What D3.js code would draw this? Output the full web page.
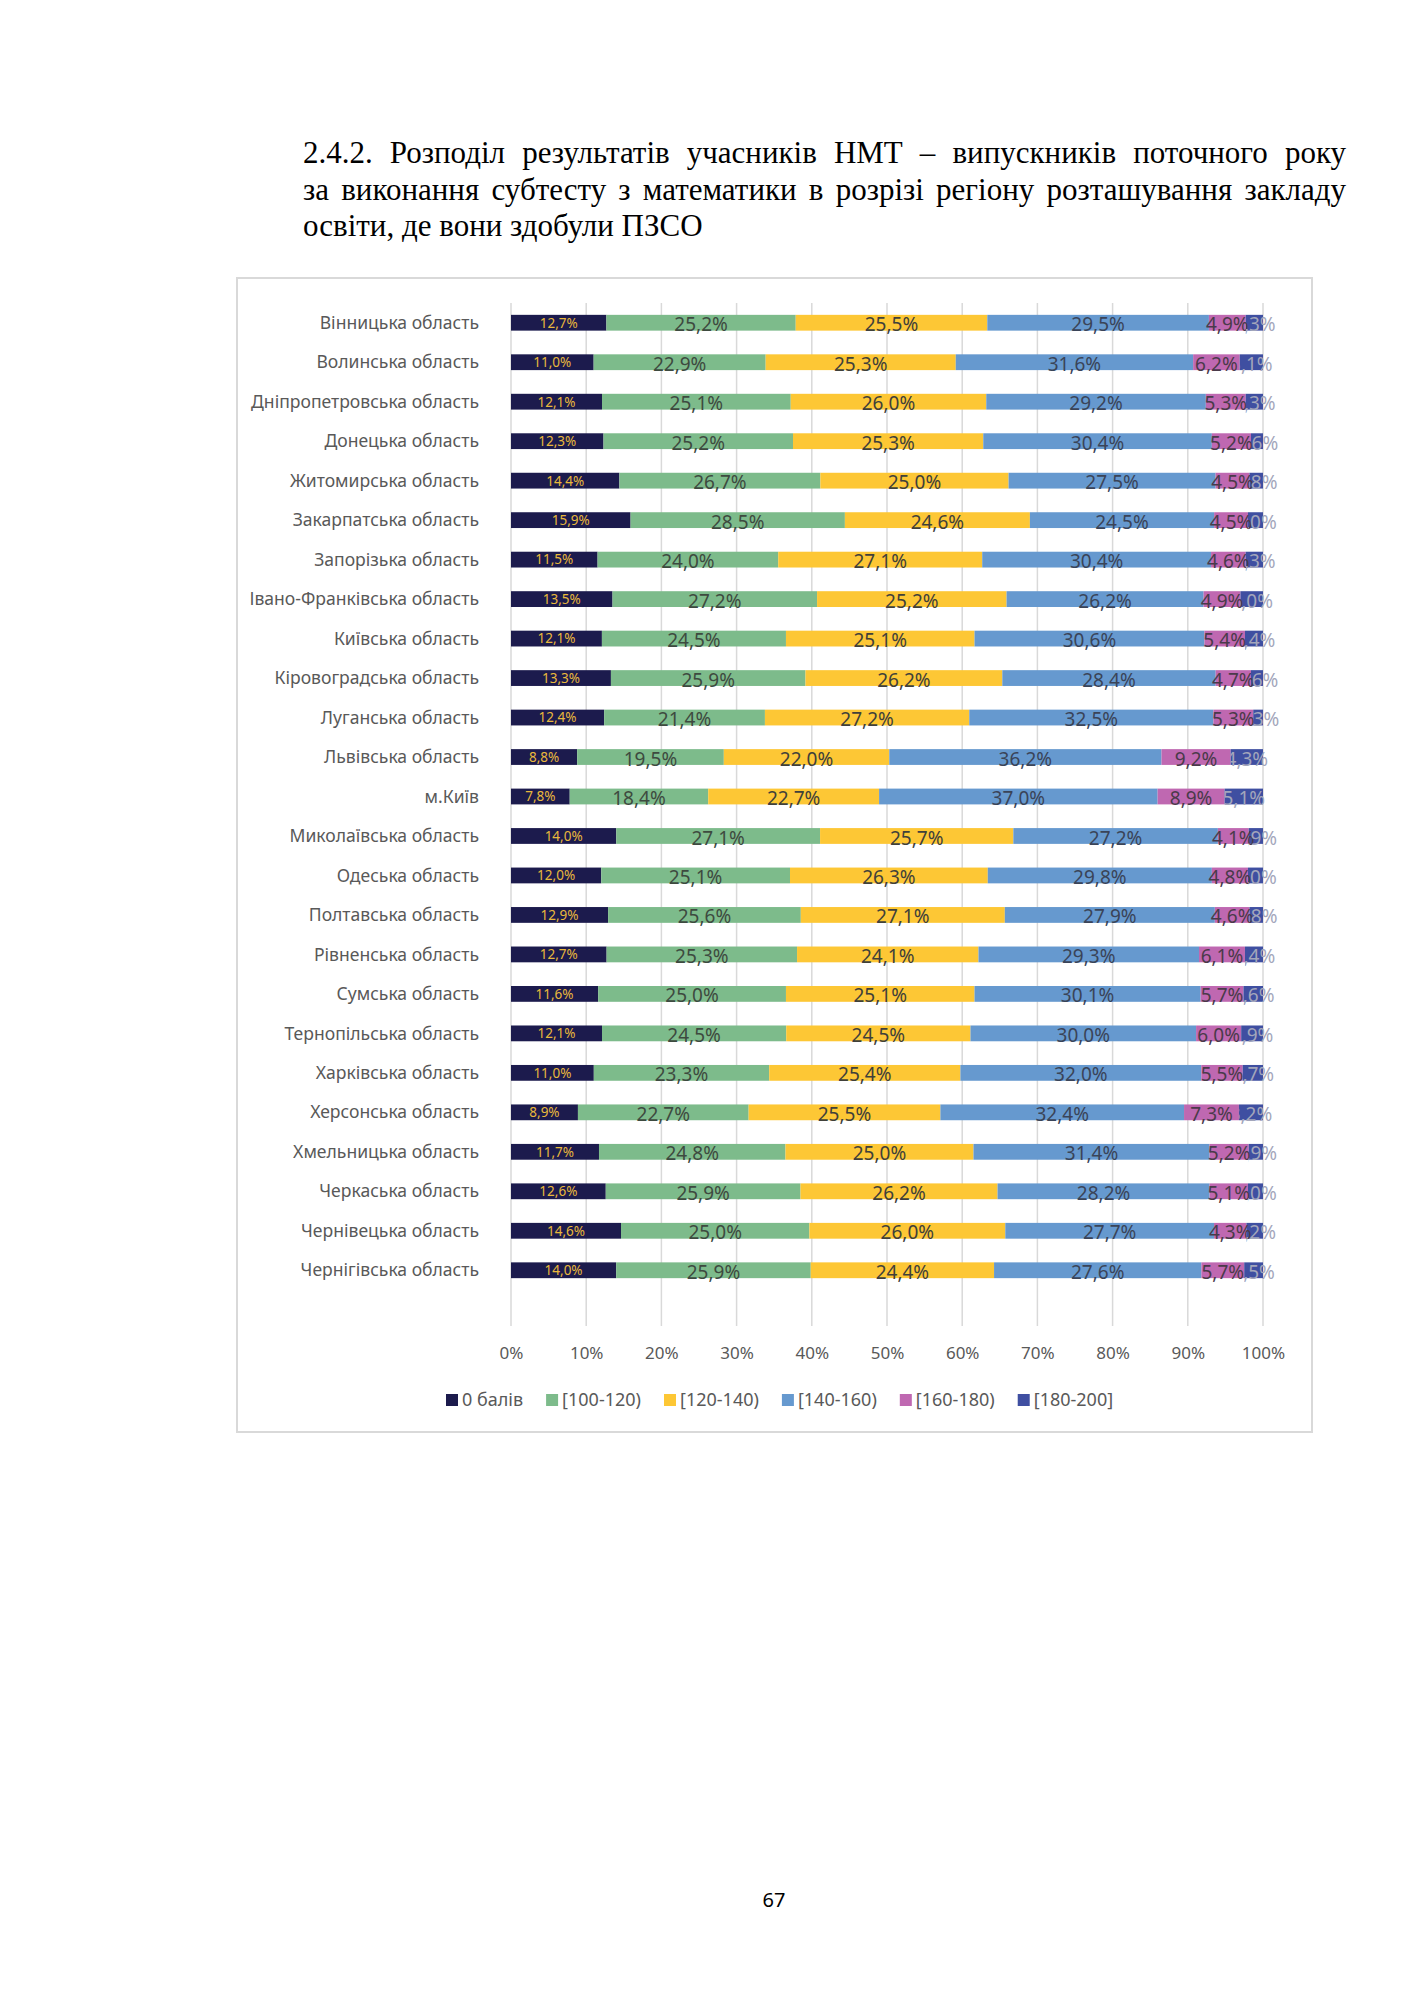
<!DOCTYPE html>
<html>
<head>
<meta charset="utf-8">
<script src="https://cdn.jsdelivr.net/npm/d3@7"></script>
<style>
  html, body { margin: 0; padding: 0; background: #fff; }
  svg { display: block; }
</style>
</head>
<body>
<script>
// ---------------- DATA ----------------
const titleLines = [
  "2.4.2. Розподіл результатів учасників НМТ – випускників поточного року",
  "за виконання субтесту з математики в розрізі регіону розташування закладу",
  "освіти, де вони здобули ПЗСО"
];
const pageNumber = "67";

const categories = [
  "Вінницька область", "Волинська область", "Дніпропетровська область", "Донецька область",
  "Житомирська область", "Закарпатська область", "Запорізька область", "Івано-Франківська область",
  "Київська область", "Кіровоградська область", "Луганська область", "Львівська область",
  "м.Київ", "Миколаївська область", "Одеська область", "Полтавська область",
  "Рівненська область", "Сумська область", "Тернопільська область", "Харківська область",
  "Херсонська область", "Хмельницька область", "Черкаська область", "Чернівецька область",
  "Чернігівська область"
];
const seriesNames = ["0 балів", "[100-120)", "[120-140)", "[140-160)", "[160-180)", "[180-200]"];
const zeroScore = [12.7, 11.0, 12.1, 12.3, 14.4, 15.9, 11.5, 13.5, 12.1, 13.3, 12.4, 8.8, 7.8, 14.0, 12.0, 12.9, 12.7, 11.6, 12.1, 11.0, 8.9, 11.7, 12.6, 14.6, 14.0];
const s100_120 = [25.2, 22.9, 25.1, 25.2, 26.7, 28.5, 24.0, 27.2, 24.5, 25.9, 21.4, 19.5, 18.4, 27.1, 25.1, 25.6, 25.3, 25.0, 24.5, 23.3, 22.7, 24.8, 25.9, 25.0, 25.9];
const s120_140 = [25.5, 25.3, 26.0, 25.3, 25.0, 24.6, 27.1, 25.2, 25.1, 26.2, 27.2, 22.0, 22.7, 25.7, 26.3, 27.1, 24.1, 25.1, 24.5, 25.4, 25.5, 25.0, 26.2, 26.0, 24.4];
const s140_160 = [29.5, 31.6, 29.2, 30.4, 27.5, 24.5, 30.4, 26.2, 30.6, 28.4, 32.5, 36.2, 37.0, 27.2, 29.8, 27.9, 29.3, 30.1, 30.0, 32.0, 32.4, 31.4, 28.2, 27.7, 27.6];
const s160_180 = [4.9, 6.2, 5.3, 5.2, 4.5, 4.5, 4.6, 4.9, 5.4, 4.7, 5.3, 9.2, 8.9, 4.1, 4.8, 4.6, 6.1, 5.7, 6.0, 5.5, 7.3, 5.2, 5.1, 4.3, 5.7];
const s180_200 = [2.3, 3.1, 2.3, 1.6, 1.8, 2.0, 2.3, 3.0, 2.4, 1.6, 1.3, 4.3, 5.1, 1.9, 2.0, 1.8, 2.4, 2.6, 2.9, 2.7, 3.2, 1.9, 2.0, 2.2, 2.5];
const xTickValues = [0, 0.1, 0.2, 0.3, 0.4, 0.5, 0.6, 0.7, 0.8, 0.9, 1.0];

// ---------------- STYLE ----------------
const seriesColors = ["#1c1b4d", "#7dbb8b", "#fdc735", "#6699cf", "#bf68b1", "#3f4fa1"];
const labelColors  = ["#e8b83c", "#3d4a3f", "#40403a", "#3a4458", "#4a3a4a", "#a3a6bb"];
const sansFont = "'Noto Sans', 'Open Sans', sans-serif";
const serifFont = "'Liberation Serif', 'Times New Roman', serif";

const W = 1414, H = 2000;
const svg = d3.select("body").append("svg").attr("width", W).attr("height", H);
svg.append("rect").attr("width", W).attr("height", H).attr("fill", "#fff");

// ---------------- TITLE (justified) ----------------
const titleLeft = 303, titleRight = 1346;
const titleBaselines = [163, 200, 236];
const titleG = svg.append("g").attr("font-family", serifFont).attr("fill", "#000");
let titleSize = 28;
{
  const t = titleG.append("text").attr("font-size", 28).text(titleLines[2]);
  const w = t.node().getComputedTextLength();
  titleSize = Math.max(25, Math.min(31, 28 * 400 / w));
  t.remove();
}
titleLines.forEach((line, i) => {
  const words = line.split(" ");
  const justify = i < titleLines.length - 1;
  const widths = words.map(wd => {
    const t = titleG.append("text").attr("font-size", titleSize).text(wd);
    const w = t.node().getComputedTextLength();
    t.remove();
    return w;
  });
  const total = d3.sum(widths);
  const spaceW = justify ? (titleRight - titleLeft - total) / (words.length - 1) : titleSize * 0.25;
  let x = titleLeft;
  const text = titleG.append("text").attr("font-size", titleSize).attr("y", titleBaselines[i]);
  words.forEach((wd, j) => {
    text.append("tspan").attr("x", x).text(wd);
    x += widths[j] + spaceW;
  });
});

// ---------------- CHART FRAME ----------------
svg.append("rect")
  .attr("x", 237).attr("y", 278).attr("width", 1075).attr("height", 1154)
  .attr("fill", "#fff").attr("stroke", "#d9d9d9").attr("stroke-width", 2);

// ---------------- SCALES ----------------
const x = d3.scaleLinear().domain([0, 1]).range([511, 1263]);
const y = d3.scaleBand().domain(categories).range([303, 1290]).paddingInner(0.6).paddingOuter(0.3);

const seriesArrays = [zeroScore, s100_120, s120_140, s140_160, s160_180, s180_200];
const rows = categories.map((c, i) => {
  const r = { cat: c };
  seriesNames.forEach((s, k) => r[s] = seriesArrays[k][i]);
  return r;
});
const stacked = d3.stack().keys(seriesNames).offset(d3.stackOffsetExpand)(rows);

// gridlines
const gridTop = 303, gridBottom = 1326;
svg.append("g").selectAll("line").data(xTickValues).join("line")
  .attr("x1", d => x(d)).attr("x2", d => x(d))
  .attr("y1", gridTop).attr("y2", gridBottom)
  .attr("stroke", "#d9d9d9").attr("stroke-width", 1.5);

// x axis tick labels
const xAxis = d3.axisBottom(x).tickValues(xTickValues).tickSize(0).tickPadding(0)
  .tickFormat(d => Math.round(d * 100) + "%");
const xAxisG = svg.append("g").attr("transform", `translate(0, 1347)`).call(xAxis);
xAxisG.select(".domain").remove();
xAxisG.selectAll("text").attr("font-family", sansFont).attr("font-size", 17)
  .attr("fill", "#595959").attr("dy", "0.71em");

// category labels (fit longest to ~228px)
const catG = svg.append("g").attr("font-family", sansFont).attr("fill", "#595959");
let catSize = 16;
{
  const t = catG.append("text").attr("font-size", 16).text("Дніпропетровська область");
  const w = t.node().getComputedTextLength();
  catSize = Math.max(13, Math.min(18, 16 * 228 / w));
  t.remove();
}
const yAxis = d3.axisLeft(y).tickSize(0).tickPadding(0);
const yAxisG = svg.append("g").attr("transform", "translate(479,0)").call(yAxis);
yAxisG.select(".domain").remove();
yAxisG.selectAll("text").attr("font-family", sansFont).attr("font-size", catSize)
  .attr("fill", "#595959").attr("dy", "0.35em");

// ---------------- BARS ----------------
const defs = svg.append("defs");
stacked.forEach((layer, k) => {
  const g = svg.append("g").attr("fill", seriesColors[k]);
  g.selectAll("rect").data(layer).join("rect")
    .attr("x", d => x(d[0]))
    .attr("width", d => x(d[1]) - x(d[0]))
    .attr("y", d => y(d.data.cat))
    .attr("height", y.bandwidth());
});

// ---------------- LABELS ----------------
const fmt = v => v.toFixed(1).replace(".", ",") + "%";
stacked.forEach((layer, k) => {
  const key = seriesNames[k];
  const g = svg.append("g").attr("font-family", sansFont).attr("text-anchor", "middle");
  layer.forEach((d, i) => {
    const cx = (x(d[0]) + x(d[1])) / 2;
    const cy = y(d.data.cat) + y.bandwidth() / 2;
    const t = g.append("text")
      .attr("x", cx)
      .attr("y", cy)
      .attr("dy", k === 0 ? "0.36em" : "0.45em")
      .attr("font-size", k === 0 ? 13.5 : 19)
      .attr("fill", labelColors[k])
      .text(fmt(d.data[key]));
    if (k === seriesNames.length - 1) {
      const id = "clip" + i;
      defs.append("clipPath").attr("id", id).append("rect")
        .attr("x", x(d[0])).attr("y", cy - 20).attr("width", 200).attr("height", 40);
      t.attr("clip-path", `url(#${id})`);
    }
  });
});

// ---------------- LEGEND ----------------
const legendG = svg.append("g").attr("font-family", sansFont).attr("font-size", 18).attr("fill", "#595959");
const legendY = 1400;
let lx = 446;
seriesNames.forEach((s, k) => {
  legendG.append("rect").attr("x", lx).attr("y", legendY - 6).attr("width", 12).attr("height", 12)
    .attr("fill", seriesColors[k]);
  const t = legendG.append("text").attr("x", lx + 16).attr("y", legendY).attr("dy", "0.35em").text(s);
  lx += 16 + t.node().getComputedTextLength() + 23;
});

// ---------------- PAGE NUMBER ----------------
svg.append("text").attr("x", 774).attr("y", 1900).attr("dy", "0.35em")
  .attr("text-anchor", "middle").attr("font-family", sansFont).attr("font-size", 20)
  .attr("fill", "#000").text(pageNumber);
</script>
</body>
</html>
